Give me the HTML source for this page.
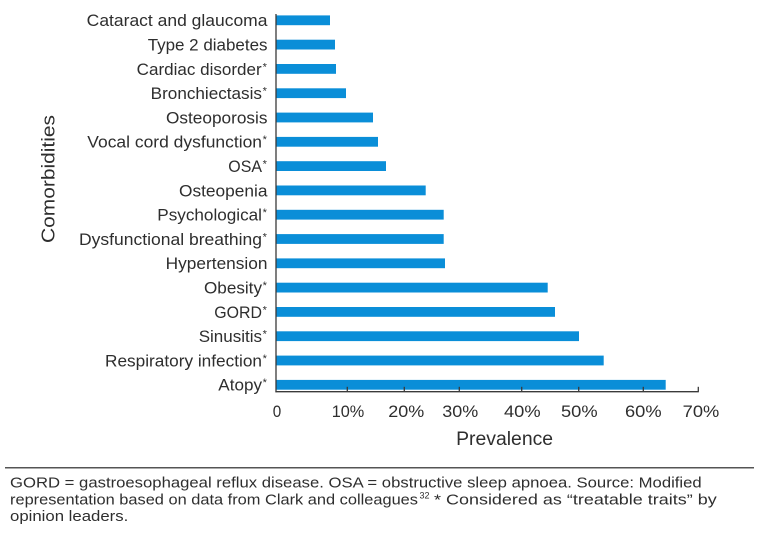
<!DOCTYPE html>
<html>
<head>
<meta charset="utf-8">
<style>
  html, body { margin: 0; padding: 0; background: #ffffff; }
  svg { display: block; }
  text { font-family: "Liberation Sans", sans-serif; fill: #2e2e2e; }
</style>
</head>
<body>
<svg width="759" height="540" viewBox="0 0 759 540" xmlns="http://www.w3.org/2000/svg">
  <rect x="0" y="0" width="759" height="540" fill="#ffffff"/>

  <!-- Bars -->
  <g fill="#0a8ed8">
    <rect x="276.5" y="15.4"  width="53.5"  height="9.8"/>
    <rect x="276.5" y="39.7"  width="58.5"  height="9.8"/>
    <rect x="276.5" y="64.0"  width="59.5"  height="9.8"/>
    <rect x="276.5" y="88.3"  width="69.5"  height="9.8"/>
    <rect x="276.5" y="112.6" width="96.5"  height="9.8"/>
    <rect x="276.5" y="136.9" width="101.5" height="9.8"/>
    <rect x="276.5" y="161.2" width="109.5" height="9.8"/>
    <rect x="276.5" y="185.5" width="149.2" height="9.8"/>
    <rect x="276.5" y="209.8" width="167.2" height="9.8"/>
    <rect x="276.5" y="234.1" width="167.2" height="9.8"/>
    <rect x="276.5" y="258.4" width="168.5" height="9.8"/>
    <rect x="276.5" y="282.7" width="271.2" height="9.8"/>
    <rect x="276.5" y="307.0" width="278.5" height="9.8"/>
    <rect x="276.5" y="331.3" width="302.5" height="9.8"/>
    <rect x="276.5" y="355.6" width="327.2" height="9.8"/>
    <rect x="276.5" y="379.9" width="389.2" height="9.8"/>
  </g>

  <!-- Axes -->
  <g stroke="#3a3a3a" stroke-width="1.3" fill="none">
    <line x1="276" y1="14" x2="276" y2="392.3"/>
    <line x1="275.4" y1="391.7" x2="698.8" y2="391.7"/>
    <line x1="347.3" y1="386.8" x2="347.3" y2="391.7"/>
    <line x1="404.3" y1="386.8" x2="404.3" y2="391.7"/>
    <line x1="459.3" y1="386.8" x2="459.3" y2="391.7"/>
    <line x1="521.7" y1="386.8" x2="521.7" y2="391.7"/>
    <line x1="578.7" y1="386.8" x2="578.7" y2="391.7"/>
    <line x1="643.3" y1="386.8" x2="643.3" y2="391.7"/>
    <line x1="698.3" y1="386.8" x2="698.3" y2="391.7"/>
  </g>

  <!-- Category labels -->
  <g font-size="17">
    <text x="86.7"  y="26.2"  textLength="180.8" lengthAdjust="spacingAndGlyphs">Cataract and glaucoma</text>
    <text x="147.7" y="50.5"  textLength="119.8" lengthAdjust="spacingAndGlyphs">Type 2 diabetes</text>
    <text x="136.7" y="74.8"  textLength="125"   lengthAdjust="spacingAndGlyphs">Cardiac disorder</text>
    <text x="150.7" y="99.1"  textLength="111.3" lengthAdjust="spacingAndGlyphs">Bronchiectasis</text>
    <text x="166"   y="123.4" textLength="101.5" lengthAdjust="spacingAndGlyphs">Osteoporosis</text>
    <text x="87.3"  y="147.7" textLength="174.7" lengthAdjust="spacingAndGlyphs">Vocal cord dysfunction</text>
    <text x="228.3" y="172.0" textLength="33.7"  lengthAdjust="spacingAndGlyphs">OSA</text>
    <text x="179"   y="196.3" textLength="88.5"  lengthAdjust="spacingAndGlyphs">Osteopenia</text>
    <text x="157.3" y="220.6" textLength="104.7" lengthAdjust="spacingAndGlyphs">Psychological</text>
    <text x="79"    y="244.9" textLength="183"   lengthAdjust="spacingAndGlyphs">Dysfunctional breathing</text>
    <text x="165.7" y="269.2" textLength="101.8" lengthAdjust="spacingAndGlyphs">Hypertension</text>
    <text x="204"   y="293.5" textLength="58"    lengthAdjust="spacingAndGlyphs">Obesity</text>
    <text x="214.3" y="317.8" textLength="47.7"  lengthAdjust="spacingAndGlyphs">GORD</text>
    <text x="198.7" y="342.1" textLength="63.3"  lengthAdjust="spacingAndGlyphs">Sinusitis</text>
    <text x="105"   y="366.4" textLength="157"   lengthAdjust="spacingAndGlyphs">Respiratory infection</text>
    <text x="218.3" y="390.7" textLength="43.7"  lengthAdjust="spacingAndGlyphs">Atopy</text>
  </g>
  <!-- Asterisks -->
  <g font-size="11">
    <text x="262.6" y="70.3">*</text>
    <text x="262.6" y="94.6">*</text>
    <text x="262.6" y="143.2">*</text>
    <text x="262.6" y="167.5">*</text>
    <text x="262.6" y="216.1">*</text>
    <text x="262.6" y="240.4">*</text>
    <text x="262.6" y="289.0">*</text>
    <text x="262.6" y="313.3">*</text>
    <text x="262.6" y="337.6">*</text>
    <text x="262.6" y="361.9">*</text>
    <text x="262.6" y="386.2">*</text>
  </g>

  <!-- Tick labels -->
  <g font-size="17" text-anchor="middle">
    <text x="277"   y="417" textLength="8.5"  lengthAdjust="spacingAndGlyphs">0</text>
    <text x="348"   y="417" textLength="32.6" lengthAdjust="spacingAndGlyphs">10%</text>
    <text x="406.3" y="417" textLength="36"   lengthAdjust="spacingAndGlyphs">20%</text>
    <text x="460.3" y="417" textLength="36"   lengthAdjust="spacingAndGlyphs">30%</text>
    <text x="522.3" y="417" textLength="36.6" lengthAdjust="spacingAndGlyphs">40%</text>
    <text x="579.3" y="417" textLength="36.6" lengthAdjust="spacingAndGlyphs">50%</text>
    <text x="643.3" y="417" textLength="36.6" lengthAdjust="spacingAndGlyphs">60%</text>
    <text x="701"   y="417" textLength="36.6" lengthAdjust="spacingAndGlyphs">70%</text>
  </g>

  <!-- Axis titles -->
  <text x="504.6" y="445" font-size="19" text-anchor="middle" textLength="97" lengthAdjust="spacingAndGlyphs">Prevalence</text>
  <text transform="translate(54.5,179) rotate(-90)" x="0" y="0" font-size="18.5" text-anchor="middle" textLength="128" lengthAdjust="spacingAndGlyphs">Comorbidities</text>

  <!-- Footer -->
  <line x1="5" y1="467.7" x2="754" y2="467.7" stroke="#555555" stroke-width="1.5"/>
  <g font-size="15">
    <text x="10" y="487.3" textLength="691.7" lengthAdjust="spacingAndGlyphs">GORD = gastroesophageal reflux disease. OSA = obstructive sleep apnoea. Source: Modified</text>
    <text x="10" y="504.5" textLength="408" lengthAdjust="spacingAndGlyphs">representation based on data from Clark and colleagues</text>
    <text x="419.5" y="498.5" font-size="9">32</text>
    <text x="434" y="504.5" textLength="282.7" lengthAdjust="spacingAndGlyphs">* Considered as “treatable traits” by</text>
    <text x="10" y="521.2" textLength="118.3" lengthAdjust="spacingAndGlyphs">opinion leaders.</text>
  </g>
</svg>
</body>
</html>
